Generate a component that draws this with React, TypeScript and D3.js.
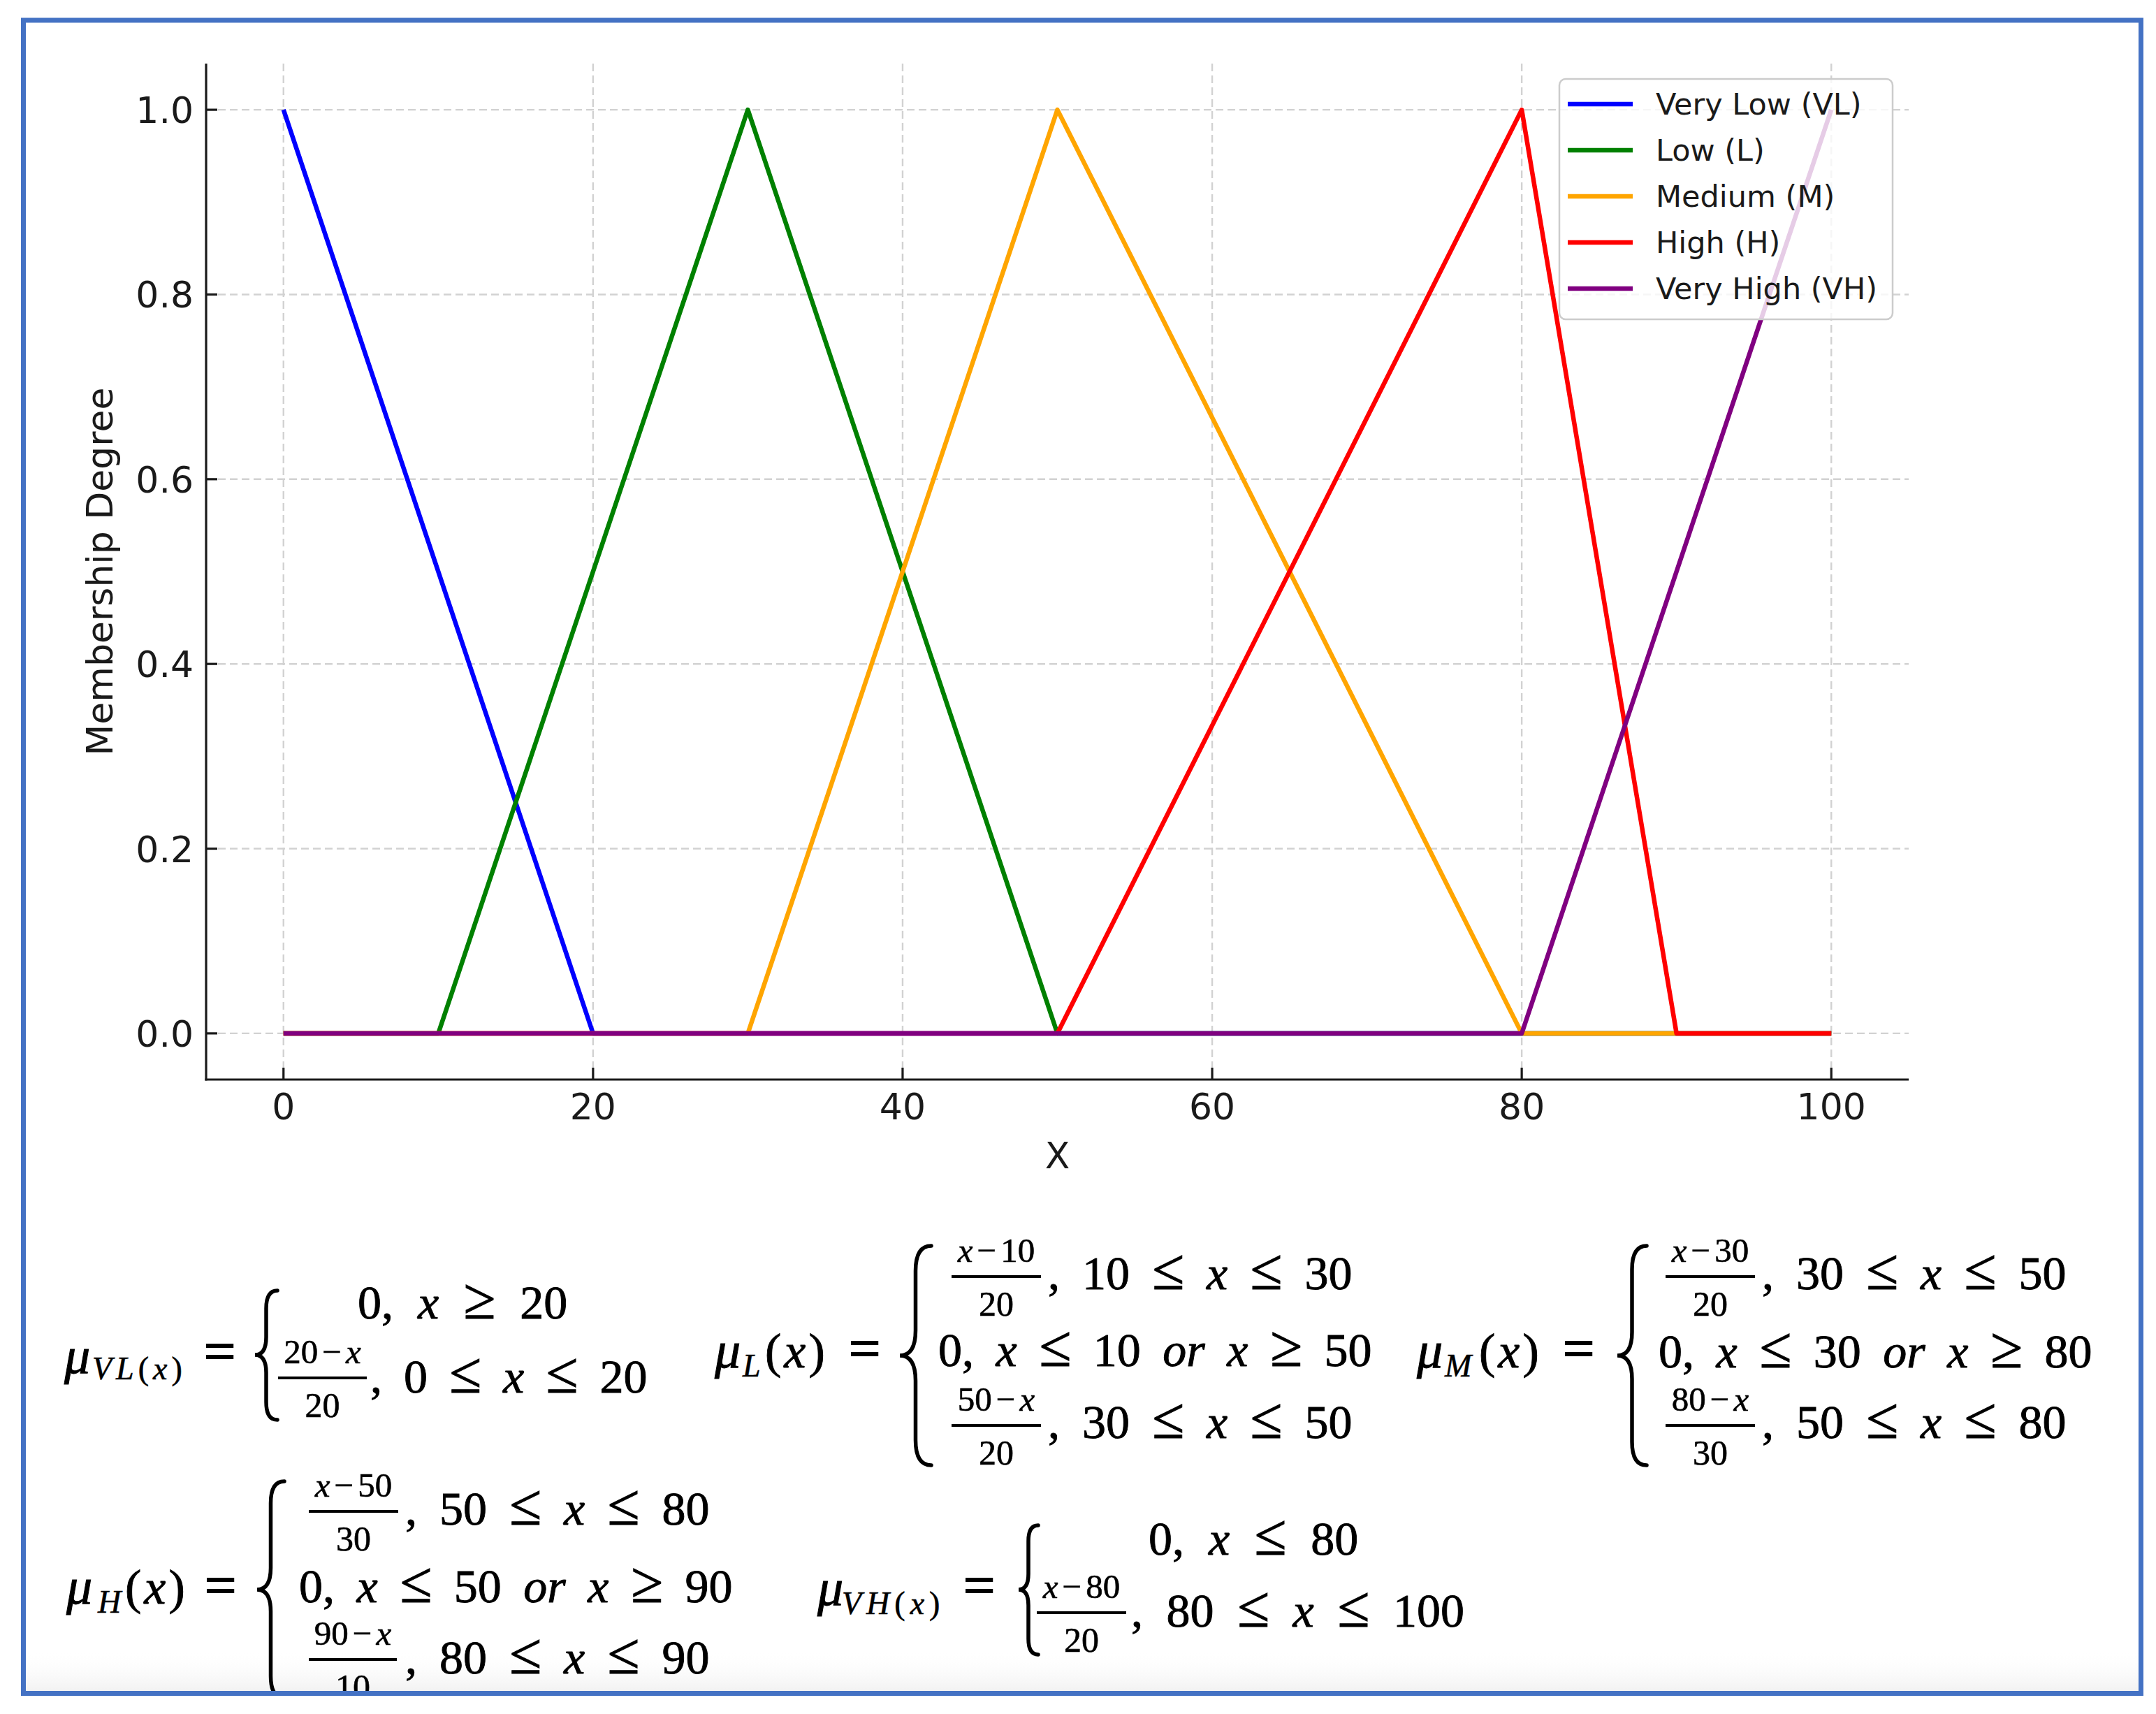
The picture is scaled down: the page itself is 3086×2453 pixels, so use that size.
import React from 'react';
import * as d3 from 'd3';

// membership functions: breakpoints (x) and degrees (y)
const categories = ['Very Low (VL)', 'Low (L)', 'Medium (M)', 'High (H)', 'Very High (VH)'];
const seriesColors = ['blue', 'green', 'orange', 'red', 'purple'];

const vlX = [0, 20, 100];
const vlY = [1, 0, 0];
const lowX = [0, 10, 30, 50, 100];
const lowY = [0, 0, 1, 0, 0];
const medX = [0, 30, 50, 80, 100];
const medY = [0, 0, 1, 0, 0];
const highX = [0, 50, 80, 90, 100];
const highY = [0, 0, 1, 0, 0];
const vhX = [0, 80, 100];
const vhY = [0, 0, 1];

const xTicks = [0, 20, 40, 60, 80, 100];
const yTicks = [0, 0.2, 0.4, 0.6, 0.8, 1.0];

const W = 3086;
const H = 2453;
const SANS = "'DejaVu Sans', Verdana, sans-serif";
const MATH = "'Liberation Serif', 'Times New Roman', serif";

const plot = { left: 295, right: 2732, top: 91, bottom: 1545 };

const x = d3.scaleLinear().domain([-5, 105]).range([plot.left, plot.right]);
const y = d3.scaleLinear().domain([-0.05, 1.05]).range([plot.bottom, plot.top]);

const line = d3.line<[number, number]>()
    .x(d => x(d[0]))
    .y(d => y(d[1]));

const series = [
    [vlX, vlY],
    [lowX, lowY],
    [medX, medY],
    [highX, highY],
    [vhX, vhY]
].map(([xs, ys], i) => ({
    name: categories[i],
    color: seriesColors[i],
    points: xs.map((v, j) => [v, ys[j]] as [number, number])
}));

const isRel = p => p === '≤' || p === '≥';

// one line of a piecewise case, tokens spaced like an equation editor would
const Row = ({ x0, y0, parts, gap = 32 }) => (
    <text x={x0} y={y0} fontFamily={MATH} fontSize={68} fill="#000" stroke="#000" strokeWidth={0.9}>
        {parts.map((p, i) => (
            <tspan
                key={i}
                dx={i === 0 ? 0 : gap}
                fontSize={isRel(p) ? 84 : 68}
                fontStyle={p === 'x' || p === 'or' ? 'italic' : 'normal'}
            >
                {p}
            </tspan>
        ))}
    </text>
);

const Frac = ({ x0, x1, yb, num, den }) => {
    const cx = (x0 + x1) / 2;
    return (
        <g stroke="#000">
            <line x1={x0} x2={x1} y1={yb} y2={yb} strokeWidth={4} />
            <text x={cx} y={yb - 21} textAnchor="middle" fontFamily={MATH} fontSize={49} strokeWidth={0.6}>
                {num.map((p, i) => (
                    <tspan key={i} dx={i === 0 ? 0 : 6} fontStyle={p === 'x' ? 'italic' : 'normal'}>{p}</tspan>
                ))}
            </text>
            <text x={cx} y={yb + 56} textAnchor="middle" fontFamily={MATH} fontSize={50} strokeWidth={0.6}>{den}</text>
        </g>
    );
};

const Brace = ({ xl, xr, top, bot, mid }) => {
    const xm = (xl + xr) / 2;
    const r = (xr - xl) * 0.8;
    const d = `M${xr},${top} Q${xm},${top} ${xm},${top + r} L${xm},${mid - r} Q${xm},${mid} ${xl},${mid}`
        + ` Q${xm},${mid} ${xm},${mid + r} L${xm},${bot - r} Q${xm},${bot} ${xr},${bot}`;
    return <path d={d} fill="none" stroke="#000" strokeWidth={5.5} strokeLinecap="round" />;
};

const Lhs = ({ mx, my, sub, subX, subY, subSpacing = 0, tailX, eqX, eqY }) => (
    <g fontFamily={MATH} fill="#000" stroke="#000">
        <text x={mx} y={my} fontSize={74} fontStyle="italic" strokeWidth={1}>μ</text>
        <text x={subX} y={subY} fontSize={46} letterSpacing={subSpacing} strokeWidth={0.6}>
            {sub.map((p, i) => (
                <tspan key={i} fontStyle={p === '(' || p === ')' ? 'normal' : 'italic'}>{p}</tspan>
            ))}
        </text>
        {tailX != null && (
            <text x={tailX} y={my} fontSize={70} letterSpacing={4} strokeWidth={0.9}>
                (<tspan fontStyle="italic">x</tspan>)
            </text>
        )}
        <text x={eqX} y={eqY} fontSize={80} strokeWidth={2}>=</text>
    </g>
);

const App = () => {
    const legendRows = categories.map((c, i) => ({ label: c, color: seriesColors[i], cy: 149 + i * 66 }));

    return (
        <div style={{ position: 'absolute', left: 0, top: 0 }}>
            <svg width={W} height={H} viewBox={`0 0 ${W} ${H}`} style={{ display: 'block', background: '#fff' }}>
                <defs>
                    <clipPath id="frameClip">
                        <rect x={37} y={33} width={3028} height={2387} />
                    </clipPath>
                    <linearGradient id="fade" x1="0" y1="0" x2="0" y2="1">
                        <stop offset="0" stopColor="#fff" stopOpacity={0} />
                        <stop offset="1" stopColor="#f2f2f2" stopOpacity={1} />
                    </linearGradient>
                </defs>

                {/* grid */}
                <g stroke="#d2d2d2" strokeWidth={2.4} strokeDasharray="11,6">
                    {xTicks.map(t => (
                        <line key={`gx${t}`} x1={x(t)} x2={x(t)} y1={plot.top} y2={plot.bottom} />
                    ))}
                    {yTicks.map(t => (
                        <line key={`gy${t}`} x1={plot.left} x2={plot.right} y1={y(t)} y2={y(t)} />
                    ))}
                </g>

                {/* membership lines */}
                {series.map(s => (
                    <path key={s.name} d={line(s.points)} fill="none" stroke={s.color} strokeWidth={6.5} strokeLinejoin="round" />
                ))}

                {/* spines and inward ticks */}
                <g stroke="#1a1a1a" strokeWidth={3.2}>
                    <line x1={plot.left} x2={plot.left} y1={plot.top} y2={plot.bottom + 1.6} />
                    <line x1={plot.left - 1.6} x2={plot.right} y1={plot.bottom} y2={plot.bottom} />
                    {xTicks.map(t => (
                        <line key={`tx${t}`} x1={x(t)} x2={x(t)} y1={plot.bottom} y2={plot.bottom - 17} />
                    ))}
                    {yTicks.map(t => (
                        <line key={`ty${t}`} x1={plot.left} x2={plot.left + 16} y1={y(t)} y2={y(t)} />
                    ))}
                </g>

                <g fontFamily={SANS} fontSize={52} fill="#1a1a1a">
                    {xTicks.map(t => (
                        <text key={`lx${t}`} x={x(t)} y={1602} textAnchor="middle">{t}</text>
                    ))}
                    {yTicks.map(t => (
                        <text key={`ly${t}`} x={277} y={y(t) + 19} textAnchor="end">{d3.format('.1f')(t)}</text>
                    ))}
                    <text x={(plot.left + plot.right) / 2} y={1672} textAnchor="middle">X</text>
                    <text transform={`translate(161, ${(plot.top + plot.bottom) / 2}) rotate(-90)`} textAnchor="middle">
                        Membership Degree
                    </text>
                </g>

                {/* legend */}
                <g>
                    <rect x={2232} y={113} width={477} height={344} rx={9} fill="#fff" fillOpacity={0.8} stroke="#cccccc" strokeWidth={2.5} />
                    {legendRows.map(r => (
                        <g key={r.label}>
                            <line x1={2244} x2={2337} y1={r.cy} y2={r.cy} stroke={r.color} strokeWidth={6.5} />
                            <text x={2370} y={r.cy + 15} fontFamily={SANS} fontSize={43} fill="#1a1a1a">{r.label}</text>
                        </g>
                    ))}
                </g>

                {/* formulas */}
                <g clipPath="url(#frameClip)">
                    <rect x={37} y={2360} width={3028} height={60} fill="url(#fade)" />

                    <Lhs mx={92} my={1965} sub={['V', 'L', '(', 'x', ')']} subX={132} subY={1974} subSpacing={6} eqX={292} eqY={1961} />
                    <Brace xl={365} xr={397} top={1847} bot={2032} mid={1939} />
                    <Row x0={512} y0={1887} parts={['0,', 'x', '≥', '20']} gap={35} />
                    <Frac x0={398} x1={525} yb={1972} num={['20', '−', 'x']} den="20" />
                    <Row x0={530} y0={1993} parts={[',', '0', '≤', 'x', '≤', '20']} gap={31} />

                    <Lhs mx={1023} my={1957} sub={['L']} subX={1063} subY={1970} tailX={1095} eqX={1215} eqY={1957} />
                    <Brace xl={1288} xr={1333} top={1783} bot={2097} mid={1940} />
                    <Frac x0={1362} x1={1490} yb={1827} num={['x', '−', '10']} den="20" />
                    <Row x0={1500} y0={1845} parts={[',', '10', '≤', 'x', '≤', '30']} />
                    <Row x0={1343} y0={1955} parts={['0,', 'x', '≤', '10', 'or', 'x', '≥', '50']} gap={31.5} />
                    <Frac x0={1362} x1={1490} yb={2040} num={['50', '−', 'x']} den="20" />
                    <Row x0={1500} y0={2058} parts={[',', '30', '≤', 'x', '≤', '50']} />

                    <Lhs mx={2028} my={1957} sub={['M']} subX={2068} subY={1970} tailX={2117} eqX={2237} eqY={1957} />
                    <Brace xl={2315} xr={2357} top={1783} bot={2097} mid={1940} />
                    <Frac x0={2384} x1={2512} yb={1827} num={['x', '−', '30']} den="20" />
                    <Row x0={2522} y0={1845} parts={[',', '30', '≤', 'x', '≤', '50']} />
                    <Row x0={2374} y0={1957} parts={['0,', 'x', '≤', '30', 'or', 'x', '≥', '80']} gap={31.5} />
                    <Frac x0={2384} x1={2512} yb={2040} num={['80', '−', 'x']} den="30" />
                    <Row x0={2522} y0={2058} parts={[',', '50', '≤', 'x', '≤', '80']} />

                    <Lhs mx={95} my={2295} sub={['H']} subX={140} subY={2308} tailX={179} eqX={293} eqY={2296} />
                    <Brace xl={368} xr={407} top={2120} bot={2430} mid={2275} />
                    <Frac x0={442} x1={570} yb={2163} num={['x', '−', '50']} den="30" />
                    <Row x0={580} y0={2182} parts={[',', '50', '≤', 'x', '≤', '80']} />
                    <Row x0={428} y0={2293} parts={['0,', 'x', '≤', '50', 'or', 'x', '≥', '90']} gap={31.5} />
                    <Frac x0={442} x1={568} yb={2375} num={['90', '−', 'x']} den="10" />
                    <Row x0={580} y0={2395} parts={[',', '80', '≤', 'x', '≤', '90']} />

                    <Lhs mx={1170} my={2297} sub={['V', 'H', '(', 'x', ')']} subX={1205} subY={2310} subSpacing={7} eqX={1379} eqY={2296} />
                    <Brace xl={1458} xr={1486} top={2183} bot={2368} mid={2275} />
                    <Row x0={1644} y0={2225} parts={['0,', 'x', '≤', '80']} gap={35} />
                    <Frac x0={1484} x1={1612} yb={2308} num={['x', '−', '80']} den="20" />
                    <Row x0={1619} y0={2328} parts={[',', '80', '≤', 'x', '≤', '100']} gap={33.5} />
                </g>

                {/* blue frame */}
                <rect x={33.5} y={29} width={3031} height={2394.5} fill="none" stroke="#4472C4" strokeWidth={7} />
            </svg>
        </div>
    );
};

export default App;
